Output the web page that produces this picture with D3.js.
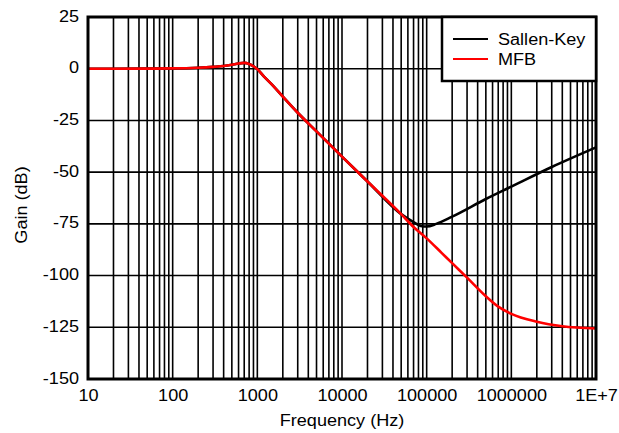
<!DOCTYPE html>
<html>
<head>
<meta charset="utf-8">
<script src="https://cdn.jsdelivr.net/npm/d3@7"></script>
<style>
  body { margin: 0; background: #fff; }
  text { font-family: "Liberation Sans", Arial, sans-serif; }
</style>
</head>
<body>
<svg id="chart"></svg>
<script>
// Data
const freqTicks = [10, 100, 1000, 10000, 100000, 1000000, 10000000];
const freqTickLabels = ["10", "100", "1000", "10000", "100000", "1000000", "1E+7"];
const gainTicks = [-150, -125, -100, -75, -50, -25, 0, 25];

const commonFreq = [10, 20, 50, 100, 200, 300, 400, 500, 600, 700, 800, 900, 1000, 1200, 1500, 2000, 3000, 5000, 10000, 20000, 50000];
const commonGain = [0, 0, 0.05, 0.15, 0.5, 0.9, 1.3, 1.9, 2.5, 2.8, 2.3, 1.2, -0.2, -3.8, -7.8, -13.5, -21.3, -30.3, -42.5, -54.5, -70.3];

const skFreq = [70000, 85000, 100000, 130000, 200000, 500000, 1000000, 3000000, 10000000];
const skGain = [-74.2, -76, -76.3, -75, -71.5, -63, -57, -47.5, -38];

const mfbFreq = [70000, 100000, 150000, 200000, 300000, 500000, 700000, 1000000, 2000000, 4000000, 10000000];
const mfbGain = [-76.5, -82, -89, -94, -101, -110, -115, -118.5, -122.3, -124.5, -125.6];

const series = [
  { name: "Sallen-Key", color: "#000000", freq: commonFreq.concat(skFreq), gain: commonGain.concat(skGain) },
  { name: "MFB", color: "#ff0000", freq: commonFreq.concat(mfbFreq), gain: commonGain.concat(mfbGain) }
];

const width = 619, height = 433;
const plotLeft = 88, plotRight = 596, plotTop = 17, plotBottom = 379;
const stretch = 1.13; // reference text is a little wider than plain Arial

const svg = d3.select("#chart")
  .attr("width", width)
  .attr("height", height);

// Scales
const x = d3.scaleLog().domain([10, 1e7]).range([plotLeft, plotRight]);
const y = d3.scaleLinear().domain([-150, 25]).range([plotBottom, plotTop]);

// Vertical grid (every 1..9 per decade)
svg.append("g")
  .selectAll("line")
  .data(x.ticks())
  .enter()
  .append("line")
  .attr("x1", d => x(d)).attr("x2", d => x(d))
  .attr("y1", plotTop).attr("y2", plotBottom)
  .attr("stroke", "#000")
  .attr("stroke-width", 1.6);

// Horizontal grid
svg.append("g")
  .selectAll("line")
  .data(gainTicks)
  .enter()
  .append("line")
  .attr("x1", plotLeft).attr("x2", plotRight)
  .attr("y1", d => y(d)).attr("y2", d => y(d))
  .attr("stroke", "#000")
  .attr("stroke-width", 1.6);

// Axes (labels only)
const xAxis = d3.axisBottom(x)
  .tickValues(freqTicks)
  .tickFormat((d, i) => freqTickLabels[i])
  .tickSize(0)
  .tickPadding(11);

const yAxis = d3.axisLeft(y)
  .tickValues(gainTicks)
  .tickFormat(d => String(d))
  .tickSize(0)
  .tickPadding(9);

const gx = svg.append("g")
  .attr("transform", `translate(0, ${plotBottom})`)
  .call(xAxis);
const gy = svg.append("g")
  .attr("transform", `translate(${plotLeft}, 0)`)
  .call(yAxis);

[gx, gy].forEach(g => {
  g.select(".domain").remove();
  g.selectAll("text")
    .attr("fill", "#000")
    .style("font-size", "16px")
    .style("font-family", "'Liberation Sans', Arial, sans-serif");
});
gy.selectAll("text")
  .attr("x", -9 / stretch)
  .attr("dy", "0.25em")
  .attr("transform", `scale(${stretch},1)`);
gx.selectAll("text")
  .attr("transform", `scale(${stretch},1)`);

// Curves
const line = d3.line()
  .x(d => x(d[0]))
  .y(d => y(d[1]))
  .curve(d3.curveMonotoneX);

series.forEach(s => {
  svg.append("path")
    .datum(s.freq.map((f, i) => [f, s.gain[i]]))
    .attr("fill", "none")
    .attr("stroke", s.color)
    .attr("stroke-width", 2.6)
    .attr("d", line);
});

// Plot border
svg.append("rect")
  .attr("x", plotLeft).attr("y", plotTop)
  .attr("width", plotRight - plotLeft).attr("height", plotBottom - plotTop)
  .attr("fill", "none")
  .attr("stroke", "#000")
  .attr("stroke-width", 3);

// Legend
const legend = svg.append("g").attr("transform", "translate(442, 17)");
legend.append("rect")
  .attr("width", 154).attr("height", 64)
  .attr("fill", "#fff")
  .attr("stroke", "#000")
  .attr("stroke-width", 2.5);

series.forEach((s, i) => {
  const ly = 22 + i * 20;
  legend.append("line")
    .attr("x1", 11).attr("x2", 46)
    .attr("y1", ly).attr("y2", ly)
    .attr("stroke", s.color)
    .attr("stroke-width", 2);
  legend.append("text")
    .attr("transform", `translate(56, ${ly + 6}) scale(${stretch},1)`)
    .style("font-size", "16px")
    .text(s.name);
});

// Axis titles
svg.append("text")
  .attr("transform", `translate(${(plotLeft + plotRight) / 2}, 426) scale(${stretch},1)`)
  .attr("text-anchor", "middle")
  .style("font-size", "16px")
  .text("Frequency (Hz)");

svg.append("text")
  .attr("transform", `translate(27, 205) rotate(-90) scale(${stretch},1)`)
  .attr("text-anchor", "middle")
  .style("font-size", "16px")
  .text("Gain (dB)");
</script>
</body>
</html>
